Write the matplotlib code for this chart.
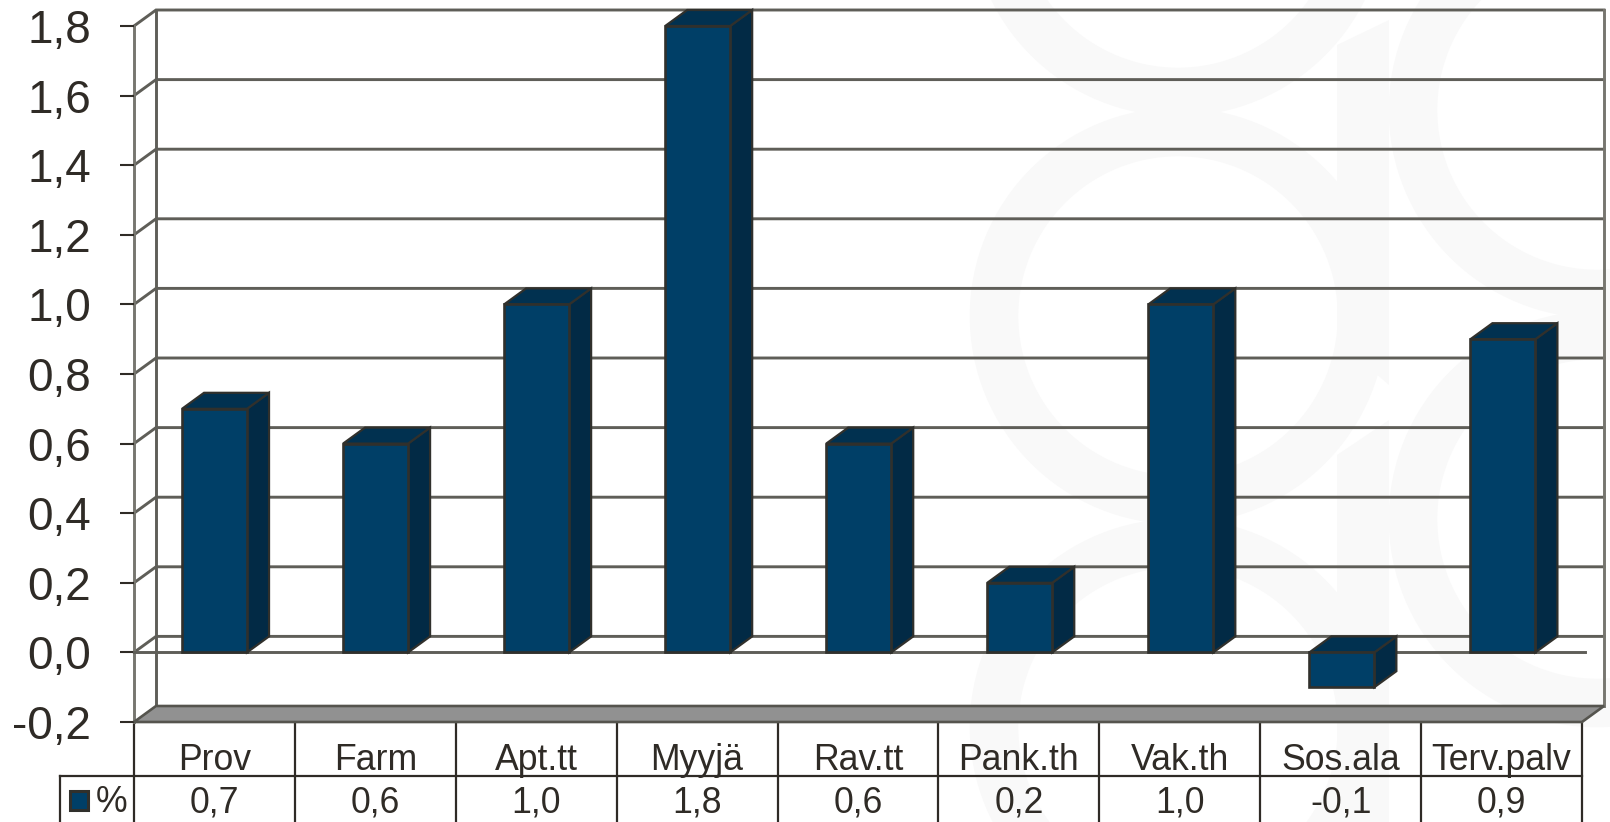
import numpy as np
import matplotlib
matplotlib.use("Agg")
import matplotlib.pyplot as plt
from matplotlib.patches import Circle, Rectangle, Polygon
from matplotlib.transforms import blended_transform_factory

plt.rcParams['font.family'] = ['Liberation Sans', 'DejaVu Sans']

categories = ['Prov', 'Farm', 'Apt.tt', 'Myyjä', 'Rav.tt', 'Pank.th', 'Vak.th', 'Sos.ala', 'Terv.palv']
values = [0.7, 0.6, 1.0, 1.8, 0.6, 0.2, 1.0, -0.1, 0.9]
value_labels = ['0,7', '0,6', '1,0', '1,8', '0,6', '0,2', '1,0', '-0,1', '0,9']
yticks = [-0.2, 0.0, 0.2, 0.4, 0.6, 0.8, 1.0, 1.2, 1.4, 1.6, 1.8]
ytick_labels = ['-0,2', '0,0', '0,2', '0,4', '0,6', '0,8', '1,0', '1,2', '1,4', '1,6', '1,8']
series_name = '%'

W, H = 1610, 822
TEXT = '#2f2b26'
GRID = '#5f5e58'
FRONT = '#003f67'
SIDE = '#022a45'
TOP = '#013150'
EDGE = '#30302c'
MARK = '#f9f9f9'

fig = plt.figure(figsize=(W / 100, H / 100), dpi=100, facecolor='white')

# background layer in pixel coords: watermark and table
bg = fig.add_axes([0, 0, 1, 1])
bg.set_xlim(0, W)
bg.set_ylim(H, 0)
bg.axis('off')

# watermark rings
for cx, cy in [(1178, -92), (1178, 316), (1178, 727), (1597, 110), (1597, 519)]:
    bg.add_patch(Circle((cx, cy), 184, fill=False, edgecolor=MARK, linewidth=35))
bg.add_patch(Polygon([(1337, 45), (1389, 20), (1389, 385), (1337, 340)], color=MARK, lw=0))
bg.add_patch(Polygon([(1337, 455), (1389, 420), (1389, 822), (1337, 822)], color=MARK, lw=0))

# main axes, placed so that the front plane matches the picture
L, R, T, B = 134, 1582, 26, 722
ax = fig.add_axes([L / W, 1 - B / H, (R - L) / W, (B - T) / H])
ax.patch.set_alpha(0)
ax.set_xlim(0, len(categories))
ax.set_ylim(-0.2, 1.8)
for s in ax.spines.values():
    s.set_visible(False)
ax.set_xticks([])
ax.set_yticks(yticks)
ax.set_yticklabels(ytick_labels, va='center_baseline')
ax.tick_params(axis='y', length=10, width=1.5, color=TEXT, labelcolor=TEXT, labelsize=33, pad=21)

dx = 22 / ((R - L) / len(categories))
dy = 16 / ((B - T) / 2.0)
x0, x1 = 0, len(categories)
lw_grid = 2.1

# back wall gridlines and the little diagonals on the side wall
for t in yticks[1:]:
    ax.plot([x0, x0 + dx, x1 + dx], [t, t + dy, t + dy], color=GRID, lw=lw_grid, clip_on=False, zorder=1,
            solid_joinstyle='miter')
ax.plot([x0, x0], [-0.2, 1.8], color='#77766f', lw=lw_grid, clip_on=False, zorder=1)
ax.plot([x0 + dx, x0 + dx], [-0.2 + dy, 1.8 + dy], color=GRID, lw=lw_grid, clip_on=False, zorder=1)
ax.plot([x1 + dx, x1 + dx], [-0.2 + dy, 1.8 + dy], color='#77766f', lw=lw_grid, clip_on=False, zorder=1)

# floor
ax.fill([x0, x0 + dx, x1 + dx, x1], [-0.2, -0.2 + dy, -0.2 + dy, -0.2], facecolor='#919191', edgecolor='#55544e',
        lw=1.9, clip_on=False, zorder=2)

# zero line on the front plane
ax.plot([x0, x1 + 0.02], [0, 0], color=GRID, lw=lw_grid, clip_on=False, zorder=2)

# 3d bars
width = 0.404
xs = np.arange(len(categories)) + 0.5
bar_xs = xs * 1.001
for x, v in zip(bar_xs, values):
    lo, hi = min(v, 0), max(v, 0)
    xl, xr = x - width / 2, x + width / 2
    ax.fill([xr, xr + dx, xr + dx, xr], [lo, lo + dy, hi + dy, hi], facecolor=SIDE, edgecolor=EDGE, lw=1.6,
            clip_on=False, zorder=3)
    ax.fill([xl, xl + dx, xr + dx, xr], [hi, hi + dy, hi + dy, hi], facecolor=TOP, edgecolor=EDGE, lw=1.6,
            clip_on=False, zorder=3)
ax.bar(bar_xs, values, width=width, color=FRONT, edgecolor=EDGE, linewidth=1.9, clip_on=False, zorder=4)

# data table under the chart
tr = blended_transform_factory(ax.transData, bg.transData)
for i in range(len(categories) + 1):
    bg.plot([i, i], [B, H], transform=tr, color=TEXT, lw=1.6, clip_on=False)
bg.plot([60, R], [776, 776], color=TEXT, lw=1.6)
bg.plot([60, 60], [776, H], color=TEXT, lw=1.6)
for x, c, v in zip(xs, categories, value_labels):
    bg.text(x, 770, c, transform=tr, ha='center', va='baseline', fontsize=25.7, color=TEXT)
    bg.text(x, 812, v, transform=tr, ha='center', va='baseline', fontsize=25.7, color=TEXT)
bg.add_patch(Rectangle((70, 791), 18, 19, facecolor=FRONT, edgecolor=EDGE, linewidth=2.2))
bg.text(96, 812, series_name, ha='left', va='baseline', fontsize=25.7, color=TEXT)

fig.savefig('out.png', dpi=100)
